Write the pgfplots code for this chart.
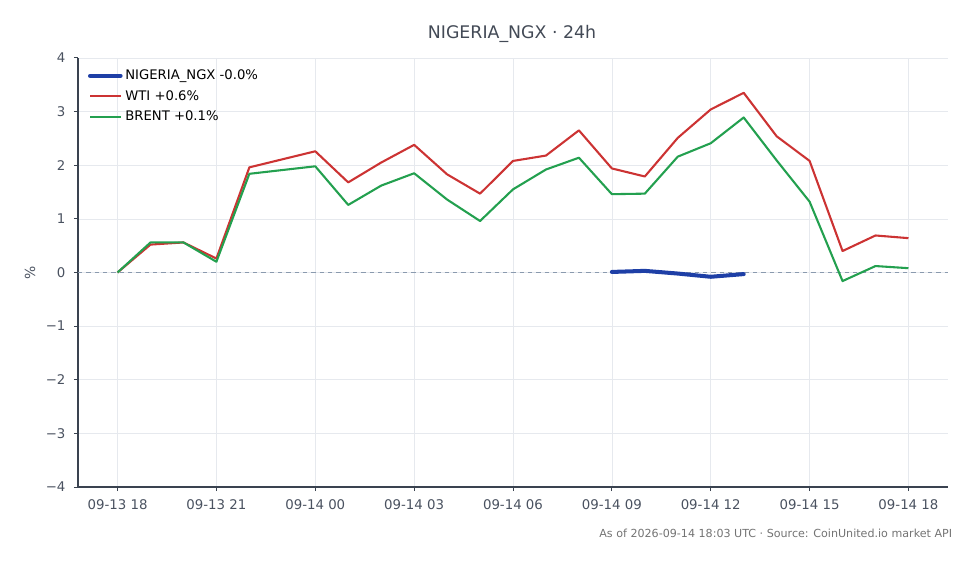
\documentclass[border=0pt]{standalone}
\usepackage{fontspec}
\setmainfont{DejaVu Sans}
\usepackage{pgfplots}
\pgfplotsset{compat=1.18}

\definecolor{ngx}{HTML}{1E3FA6}
\definecolor{wti}{HTML}{CC3333}
\definecolor{brent}{HTML}{23A04F}
\definecolor{txt}{HTML}{4A5260}
\definecolor{spine}{HTML}{3A4350}
\definecolor{gridc}{HTML}{E6E9EE}
\definecolor{zero}{HTML}{8A9AAE}

\begin{document}
\begin{tikzpicture}
\path[use as bounding box] (-56.16pt,-55.44pt) rectangle (649.44pt,350.64pt);
\begin{axis}[
  at={(0,0)}, anchor=south west,
  scale only axis, width=626.4pt, height=308.9pt,
  xmin=-1.2, xmax=25.2, ymin=-4, ymax=4,
  axis x line*=bottom, axis y line*=left,
  axis line style={spine, line width=0.9pt, -},
  xtick={0,3,...,24},
  xticklabels={09-13 18,09-13 21,09-14 00,09-14 03,09-14 06,09-14 09,09-14 12,09-14 15,09-14 18},
  ytick={-4,-3,...,4},
  yticklabels={−4,−3,−2,−1,0,1,2,3,4},
  tick align=outside, major tick length=3pt,
  tick style={spine, line width=0.7pt},
  tick label style={font=\fontsize{9.6}{12}\selectfont, text=txt},
  xticklabel style={yshift=-2.5pt},
  yticklabel style={xshift=-2.5pt},
  /pgf/number format/assume math mode=true,
  xmajorgrids, ymajorgrids,
  grid style={gridc, line width=0.5pt},
  ylabel={\%}, ylabel style={font=\fontsize{10}{12}\selectfont, text=txt, at={(axis description cs:-0.055,0.5)}, anchor=center},
  legend style={draw=none, fill=none, at={(0.008,0.986)}, anchor=north west,
    font=\fontsize{9.5}{11}\selectfont, row sep=2.2pt, inner sep=2pt},
  legend cell align=left,
  legend image code/.code={\draw[#1] (0pt,0pt) -- (22pt,0pt);},
  clip=true,
]
\addplot[zero, dashed, line width=0.7pt, forget plot] coordinates {(-1.2,0) (25.2,0)};

\addplot[ngx, line width=2.9pt, line join=round, line cap=round] coordinates {
(15,0.01) (16,0.03) (17,-0.02) (18,-0.08) (19,-0.03)};
\addlegendentry{NIGERIA\_NGX -0.0\%}

\addplot[wti, line width=1.5pt, line join=round] coordinates {
(0,0) (1,0.52) (2,0.56) (3,0.26) (4,1.96) (5,2.11) (6,2.26) (7,1.68)
(8,2.05) (9,2.38) (10,1.83) (11,1.47) (12,2.08) (13,2.18) (14,2.65)
(15,1.94) (16,1.79) (17,2.51) (18,3.04) (19,3.35) (20,2.54) (21,2.08)
(22,0.40) (23,0.69) (24,0.64)};
\addlegendentry{WTI +0.6\%}

\addplot[brent, line width=1.5pt, line join=round] coordinates {
(0,0) (1,0.56) (2,0.56) (3,0.20) (4,1.84) (5,1.91) (6,1.98) (7,1.26)
(8,1.62) (9,1.85) (10,1.36) (11,0.96) (12,1.55) (13,1.92) (14,2.14)
(15,1.46) (16,1.47) (17,2.16) (18,2.41) (19,2.89) (20,2.09) (21,1.32)
(22,-0.16) (23,0.12) (24,0.08)};
\addlegendentry{BRENT +0.1\%}
\end{axis}
\node[text=txt!90!black, font=\fontsize{12.5}{15}\selectfont] at (312.5pt,326.5pt) {NIGERIA\_NGX · 24h};
\node[anchor=east, text=gray!90!black, font=\fontsize{8}{10}\selectfont] at (632.9pt,-33.1pt) {As of 2026-09-14 18:03 UTC · Source: CoinUnited.io market API};
\end{tikzpicture}
\end{document}
